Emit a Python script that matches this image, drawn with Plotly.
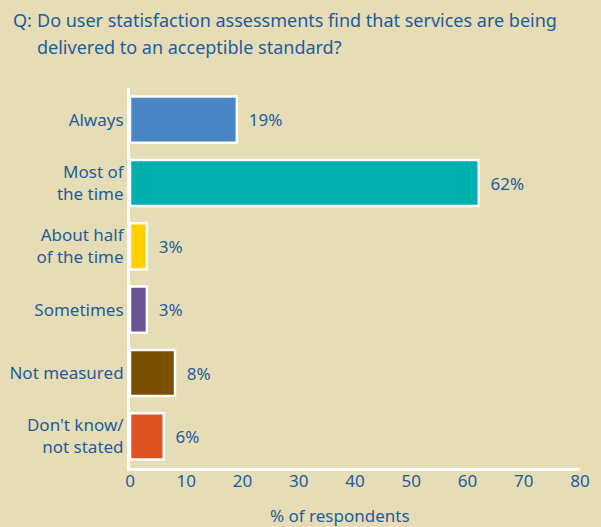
import plotly.graph_objects as go

categories = ["Always", "Most of<br>the time", "About half<br>of the time", "Sometimes", "Not measured", "Don't know/<br>not stated"]
values = [19, 62, 3, 3, 8, 6]
labels = ["19%", "62%", "3%", "3%", "8%", "6%"]
colors = ["#4A86C6", "#00B0AE", "#FFD200", "#6A5495", "#7A4F00", "#DF5320"]
tick_vals = [0, 10, 20, 30, 40, 50, 60, 70, 80]

bg = "#E6DCB6"
txt = "#1F5C9B"
font = "Noto Sans"

fig = go.Figure(go.Bar(
    y=categories, x=values, orientation="h",
    marker=dict(color=colors, line=dict(color="white", width=2.5)),
    text=["  " + s for s in labels], textposition="outside", cliponaxis=False,
    textfont=dict(family=font, size=17, color=txt),
    width=0.73,
))

fig.update_layout(
    width=601, height=527,
    paper_bgcolor=bg, plot_bgcolor=bg,
    margin=dict(l=130, r=21, t=88, b=59, autoexpand=False),
    showlegend=False,
    font=dict(family=font, size=17, color=txt),
    xaxis=dict(range=[0, 80], tickvals=tick_vals, showgrid=False, zeroline=False,
               showline=True, linecolor="white", linewidth=3, automargin=False,
               ticks="", ticklen=0, ticklabelstandoff=-4, tickfont=dict(size=17, color=txt)),
    yaxis=dict(autorange="reversed", showgrid=False, zeroline=False,
               showline=True, linecolor="white", linewidth=3, automargin=False,
               ticks="", ticklabelstandoff=0, tickfont=dict(size=17, color=txt)),
    annotations=[
        dict(text="Q:", x=15, y=18, xref="paper", yref="paper", showarrow=False),
        dict(text="Do user statisfaction assessments find that services are being",
             xref="paper", yref="paper", showarrow=False, align="left"),
        dict(text="delivered to an acceptible standard?",
             xref="paper", yref="paper", showarrow=False, align="left"),
        dict(text="% of respondents", xref="paper", yref="paper", showarrow=False),
    ],
)

pw = 601 - 130 - 21
ph = 527 - 88 - 59
def px(x):
    return (x - 130) / pw
def py(y):
    return (527 - 59 - y) / ph

fig.layout.annotations[0].update(x=px(11), y=py(20), xanchor="left", yanchor="middle", font=dict(size=18))
fig.layout.annotations[1].update(x=px(35), y=py(20), xanchor="left", yanchor="middle", font=dict(size=18))
fig.layout.annotations[2].update(x=px(35), y=py(47), xanchor="left", yanchor="middle", font=dict(size=18))
fig.layout.annotations[3].update(x=px(340), y=py(515), xanchor="center", yanchor="middle")

fig.write_html("out.html")
